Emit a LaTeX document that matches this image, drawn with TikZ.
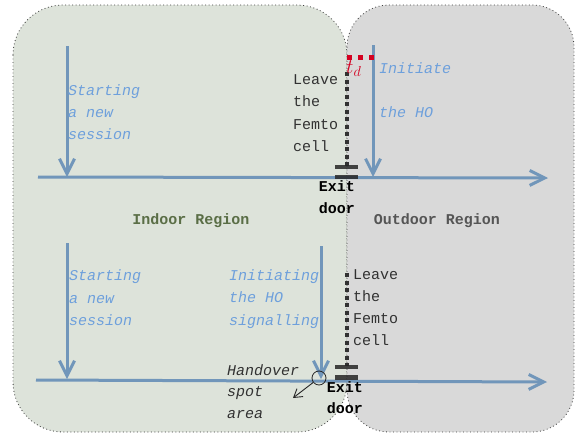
\documentclass[tikz,border=0pt]{standalone}
\usepackage{fontspec}
\newfontfamily\mono{Liberation Mono}
\usetikzlibrary{arrows.meta}
\definecolor{indoorfill}{RGB}{221,227,218}
\definecolor{outdoorfill}{RGB}{217,217,217}
\definecolor{flow}{RGB}{113,150,186}
\definecolor{bluetxt}{RGB}{110,160,220}
\definecolor{darktxt}{RGB}{50,50,50}
\definecolor{indoortxt}{RGB}{90,110,70}
\definecolor{outdoortxt}{RGB}{85,85,85}
\definecolor{tdred}{RGB}{212,0,32}
\begin{document}
\begin{tikzpicture}[x=1pt,y=-1pt,
  region/.style={draw=black!75, line width=0.8pt, dash pattern=on 0.9pt off 2.6pt},
  flowline/.style={draw=flow, line width=3pt},
  flowarrow/.style={flowline, -{Straight Barb[length=15pt,width=15pt,line width=3pt]}},
  lbl/.style={inner sep=0pt, anchor=west, text height=10pt, text depth=3pt,
              text=darktxt, font=\mono\fontsize{15}{18}\selectfont},
  bluelbl/.style={lbl, text=bluetxt, font=\mono\itshape\fontsize{15}{18}\selectfont},
  itlbl/.style={lbl, font=\mono\itshape\fontsize{15}{18}\selectfont},
  boldlbl/.style={lbl, anchor=center, font=\mono\bfseries\fontsize{15}{18}\selectfont},
  doorbar/.style={fill=black!85, fill opacity=0.85, inner sep=0pt, minimum width=23pt, minimum height=4.5pt},
  leave/.style={draw=darktxt, line width=3.5pt, dash pattern=on 4pt off 3.5pt},
]
\path[use as bounding box] (0,0) rectangle (582,437);

% regions
\draw[region, fill=indoorfill, rounded corners=50pt] (13,5) rectangle (347,432);
\draw[region, fill=outdoorfill, rounded corners=42pt] (347,5) rectangle (574,432);

% coordinates
\coordinate (h1s) at (38,177);
\coordinate (h1e) at (548,178);
\coordinate (h2s) at (36,380);
\coordinate (h2e) at (547,382);
\coordinate (v1s) at (67,46);
\coordinate (v1e) at (67,177);
\coordinate (v2s) at (373,45);
\coordinate (v2e) at (373,177);
\coordinate (v3s) at (67,243);
\coordinate (v3e) at (67,379);
\coordinate (v4s) at (321,246);
\coordinate (v4e) at (321,379);
\coordinate (l1s) at (347,72);
\coordinate (l1e) at (347,166);
\coordinate (l2s) at (347,273);
\coordinate (l2e) at (347,366);
\coordinate (tds) at (347,57);
\coordinate (tde) at (375,57);
\coordinate (hsp) at (293,398);

% timelines
\draw[flowarrow] (h1s) -- (h1e);
\draw[flowarrow] (h2s) -- (h2e);
\draw[flowarrow] (v1s) -- (v1e);
\draw[flowarrow] (v2s) -- (v2e);
\draw[flowarrow] (v3s) -- (v3e);
\draw[flowarrow] (v4s) -- (v4e);

% leaving the femtocell
\draw[leave] (l1s) -- (l1e);
\draw[leave] (l2s) -- (l2e);
\draw[draw=tdred, line width=5pt, dash pattern=on 5pt off 6pt] (tds) -- (tde);
\node[text=tdred, font=\fontsize{20}{24}\selectfont, inner sep=0pt, anchor=base west] (td) at (346,73) {$t_d$};

% exit doors
\node[doorbar] (d1a) at (346.5,167) {};
\node[doorbar] (d1b) at (346.5,177) {};
\node[doorbar] (d2a) at (346.5,367) {};
\node[doorbar] (d2b) at (346.5,377.5) {};

% handover spot
\node[circle, draw=black!85, line width=0.8pt, minimum size=14pt, inner sep=0pt] (hs) at (319,378) {};
\draw[black!85, line width=0.9pt, -{Straight Barb[length=8pt,width=10pt]}] (hs) -- (hsp);

% texts
\node[bluelbl] (s1a) at (68,92) {Starting};
\node[bluelbl] (s1b) at (68,114) {a new};
\node[bluelbl] (s1c) at (68,136) {session};
\node[bluelbl] (s2a) at (69,277) {Starting};
\node[bluelbl] (s2b) at (69,300) {a new};
\node[bluelbl] (s2c) at (69,322) {session};
\node[bluelbl] (i1a) at (229,277) {Initiating};
\node[bluelbl] (i1b) at (229,299) {the HO};
\node[bluelbl] (i1c) at (229,322) {signalling};
\node[bluelbl] (i2a) at (379,70) {Initiate};
\node[bluelbl] (i2b) at (379,114) {the HO};

\node[lbl] (f1a) at (293,81) {Leave};
\node[lbl] (f1b) at (293,103) {the};
\node[lbl] (f1c) at (293,126) {Femto};
\node[lbl] (f1d) at (293,148) {cell};
\node[lbl] (f2a) at (353,276) {Leave};
\node[lbl] (f2b) at (353,298) {the};
\node[lbl] (f2c) at (353,320) {Femto};
\node[lbl] (f2d) at (353,342) {cell};

\node[itlbl] (ha) at (227,372) {Handover};
\node[itlbl] (hb) at (227,393) {spot};
\node[itlbl] (hc) at (227,415) {area};

\node[boldlbl, text=black] (e1a) at (337,188) {Exit};
\node[boldlbl, text=black] (e1b) at (337,210) {door};
\node[boldlbl, text=black] (e2a) at (345,389) {Exit};
\node[boldlbl, text=black] (e2b) at (345,410) {door};

\node[boldlbl, text=indoortxt] (indoor) at (191,221) {Indoor Region};
\node[boldlbl, text=outdoortxt] (outdoor) at (437,221) {Outdoor Region};
\end{tikzpicture}
\end{document}
